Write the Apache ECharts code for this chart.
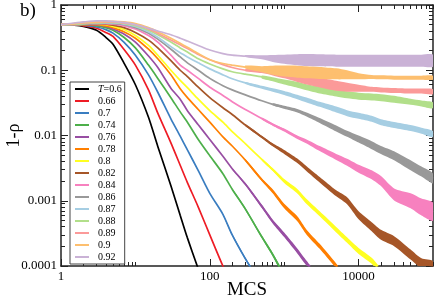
<!DOCTYPE html>
<html><head><meta charset="utf-8">
<script src="https://cdn.jsdelivr.net/npm/echarts@6/dist/echarts.min.js"></script>
<style>html,body{margin:0;padding:0;background:#fff}#c{width:436px;height:298px}</style>
</head><body><div id="c"></div>
<script>
// ---- data ----
const mcs = [1, 1.5, 2, 3, 4, 5, 7, 10, 15, 20, 30, 40, 50, 70, 100, 150, 200, 300, 500, 700, 1000, 1500, 2000, 3000, 5000, 7000, 10000, 15000, 20000, 30000, 50000, 70000, 100000];
const temps = ['T=0.6', '0.66', '0.7', '0.74', '0.76', '0.78', '0.8', '0.82', '0.84', '0.86', '0.87', '0.88', '0.89', '0.9', '0.92'];
const t060 = [0.5, 0.49, 0.47, 0.41, 0.32, 0.25, 0.13, 0.06, 0.019, 0.0068, 0.0017, 0.0006, 0.00027, 0.00009];
const t066 = [0.5, 0.5, 0.48, 0.44, 0.38, 0.33, 0.21, 0.12, 0.05, 0.022, 0.0077, 0.0035, 0.0019, 0.0008, 0.0003, 0.0001, 0.00005];
const t070 = [0.5, 0.5, 0.49, 0.46, 0.42, 0.37, 0.27, 0.17, 0.085, 0.046, 0.018, 0.0098, 0.006, 0.0029, 0.0013, 0.00062, 0.0003, 0.00013, 0.00005];
const t074 = [0.5, 0.5, 0.5, 0.48, 0.45, 0.41, 0.32, 0.22, 0.12, 0.075, 0.038, 0.023, 0.016, 0.0087, 0.0049, 0.0026, 0.0015, 0.00075, 0.00028, 0.00015, 0.00007];
const t076 = [0.5, 0.5, 0.5, 0.49, 0.47, 0.43, 0.36, 0.27, 0.165, 0.11, 0.053, 0.036, 0.024, 0.0146, 0.0087, 0.0048, 0.0031, 0.0018, 0.00082, 0.00048, 0.0003, 0.00017, 0.00011, 0.00006];
const t078 = [0.5, 0.5, 0.5, 0.5, 0.48, 0.45, 0.39, 0.31, 0.21, 0.15, 0.085, 0.052, 0.038, 0.025, 0.016, 0.0095, 0.0069, 0.0042, 0.0021, 0.0014, 0.00083, 0.00053, 0.00033, 0.0002, 0.0001, 0.00006];
const t080 = [0.5, 0.5, 0.51, 0.51, 0.5, 0.47, 0.42, 0.34, 0.24, 0.17, 0.1, 0.07, 0.054, 0.036, 0.024, 0.016, 0.0115, 0.0075, 0.0043, 0.003, 0.002, 0.0014, 0.00097, 0.00063, 0.00036, 0.00025, 0.00017, 0.00012, 0.00008];
const t082 = [0.5, 0.5, 0.51, 0.52, 0.51, 0.49, 0.45, 0.38, 0.29, 0.22, 0.14, 0.1, 0.08, 0.055, 0.038, 0.0266, 0.021, 0.0145, 0.0095, 0.0072, 0.0056, 0.0041, 0.0031, 0.0021, 0.0013, 0.001, 0.0006, 0.0004, 0.0003, 0.00024, 0.00015, 0.00011, 0.0001];
const t084 = [0.5, 0.5, 0.51, 0.52, 0.52, 0.51, 0.48, 0.43, 0.34, 0.27, 0.17, 0.12, 0.1, 0.075, 0.055, 0.041, 0.033, 0.025, 0.0182, 0.0148, 0.0121, 0.0094, 0.0081, 0.0063, 0.0047, 0.0039, 0.0031, 0.0025, 0.002, 0.00125, 0.001, 0.0008, 0.00068];
const t086 = [0.5, 0.5, 0.51, 0.52, 0.53, 0.52, 0.5, 0.45, 0.37, 0.3, 0.21, 0.16, 0.13, 0.1, 0.075, 0.058, 0.05, 0.042, 0.034, 0.03, 0.027, 0.024, 0.021, 0.017, 0.0128, 0.0106, 0.0088, 0.0071, 0.006, 0.0049, 0.0035, 0.0028, 0.0022];
const t087 = [0.5, 0.51, 0.52, 0.53, 0.53, 0.53, 0.51, 0.47, 0.39, 0.32, 0.23, 0.185, 0.16, 0.13, 0.105, 0.085, 0.074, 0.064, 0.055, 0.05, 0.045, 0.039, 0.035, 0.03, 0.025, 0.022, 0.02, 0.018, 0.016, 0.0145, 0.013, 0.0118, 0.0105];
const t088 = [0.5, 0.51, 0.52, 0.53, 0.54, 0.54, 0.52, 0.48, 0.41, 0.35, 0.27, 0.22, 0.19, 0.15, 0.125, 0.105, 0.095, 0.087, 0.079, 0.073, 0.066, 0.06, 0.055, 0.05, 0.045, 0.042, 0.04, 0.039, 0.038, 0.036, 0.033, 0.031, 0.029];
const t089 = [0.5, 0.52, 0.53, 0.54, 0.55, 0.55, 0.53, 0.5, 0.43, 0.37, 0.29, 0.245, 0.215, 0.175, 0.145, 0.122, 0.11, 0.1, 0.097, 0.094, 0.088, 0.079, 0.072, 0.065, 0.058, 0.055, 0.053, 0.051, 0.05, 0.049, 0.048, 0.048, 0.047];
const t090 = [0.5, 0.52, 0.54, 0.55, 0.56, 0.56, 0.55, 0.52, 0.45, 0.39, 0.31, 0.26, 0.225, 0.18, 0.145, 0.127, 0.12, 0.112, 0.104, 0.1, 0.097, 0.095, 0.093, 0.091, 0.088, 0.085, 0.081, 0.079, 0.078, 0.077, 0.077, 0.077, 0.077];
const t092 = [0.5, 0.53, 0.55, 0.57, 0.57, 0.56, 0.54, 0.5, 0.44, 0.4, 0.35, 0.31, 0.28, 0.24, 0.204, 0.18, 0.17, 0.165, 0.158, 0.152, 0.148, 0.145, 0.143, 0.142, 0.14, 0.14, 0.14, 0.14, 0.14, 0.14, 0.14, 0.14, 0.14];
const xTickValues = [1, 100, 10000];
const xTickLabels = ['1', '100', '10000'];
const xMinorTicks = [2, 3, 4, 5, 6, 7, 8, 9, 10, 200, 300, 400, 500, 600, 700, 800, 900, 1000, 20000, 30000, 40000, 50000, 60000, 70000, 80000, 90000, 100000];
const yTickValues = [1, 0.1, 0.01, 0.001, 0.0001];
const yTickLabels = ['1', '0.1', '0.01', '0.001', '0.0001'];
const yMinorTicks = [0.9, 0.8, 0.7, 0.6, 0.5, 0.4, 0.3, 0.2, 0.09, 0.08, 0.07, 0.06, 0.05, 0.04, 0.03, 0.02, 0.009, 0.008, 0.007, 0.006, 0.005, 0.004, 0.003, 0.002, 0.0009, 0.0008, 0.0007, 0.0006, 0.0005, 0.0004, 0.0003, 0.0002];

// ---- style ----
const allY = [t060, t066, t070, t074, t076, t078, t080, t082, t084, t086, t087, t088, t089, t090, t092];
const colors = ['#000000', '#ee1c25', '#3a7dc0', '#4daf4a', '#984ea3', '#ff7f00', '#ffff22', '#a65628', '#f781bf', '#999999', '#a6cee3', '#b2df8a', '#fb9a99', '#fdbf6f', '#cab2d6'];
// thickness (px) of the noisy band drawn around each curve, for MCS = 100 ... 100000 (mcs index 14 onward)
const noiseBandPx = {
  2: [0, 1, 2, 2.5, 3],
  3: [0, 0, 1.5, 2.5, 3, 3.5, 4],
  4: [0, 0, 1, 2.5, 3.5, 4, 4.5, 5, 5, 5],
  5: [0, 0, 0, 2, 3, 4, 4.5, 5, 5, 5, 5, 5],
  6: [0, 0, 0, 0, 2, 3, 4, 4.5, 5, 5, 5.5, 5.5, 6, 6, 6],
  7: [0, 0, 0, 2, 2.5, 3, 4, 4.5, 5, 5.5, 6, 7, 8, 9, 10, 10, 10, 10, 10],
  8: [0, 0, 0, 0, 2, 2.5, 3, 3.5, 4, 5, 6, 7, 8, 9, 10, 12, 15, 17, 18],
  9: [0, 0, 0, 0, 0, 2, 3, 3.5, 4, 5, 6, 6, 7, 8, 8, 9, 10, 10, 10],
  10: [0, 0, 0, 2, 3, 3.5, 4, 4.5, 5, 5, 6, 6, 6, 6, 6, 6, 6, 6, 6],
  11: [0, 0, 0, 0, 3, 4, 5, 6, 6, 7, 7, 7, 7, 7, 7, 7, 6, 6, 6],
  12: [0, 0, 0, 2, 4, 7, 9, 10, 10, 10, 10, 9, 7, 5, 5, 5, 5, 5, 5],
  13: [0, 0, 0, 3, 6, 9, 11, 12, 12, 12, 11, 9, 6, 4, 4, 4, 4, 4, 4],
  14: [0, 0, 0, 2, 4, 7, 9, 11, 12, 12, 12, 12, 12, 12, 12, 12, 12, 12, 12]
};
const bandStart = 14;
const serif = '"Liberation Serif", "DejaVu Serif", serif';
const frame = '#222';

const series = [];
allY.forEach((ys, i) => {
  const data = [];
  ys.forEach((v, j) => { if (v != null) data.push([mcs[j], v]); });
  series.push({
    name: temps[i], type: 'line', data, symbol: 'none', smooth: 0.25,
    lineStyle: { color: colors[i], width: 1.7 }, itemStyle: { color: colors[i] },
    z: 2 + i, clip: true, animation: false
  });
  const widths = noiseBandPx[i];
  if (widths) {
    series.push({
      name: temps[i] + ' noise', type: 'custom', data: [0], silent: true, clip: true,
      z: 2 + i, animation: false,
      renderItem: (params, api) => {
        const up = [], lo = [];
        widths.forEach((w, k) => {
          const j = bandStart + k;
          if (w > 0 && ys[j] != null) {
            const c = api.coord([mcs[j], ys[j]]);
            up.push([c[0], c[1] - w / 2]);
            lo.push([c[0], c[1] + w / 2]);
          }
        });
        if (up.length < 2) return null;
        return { type: 'polygon', shape: { points: up.concat(lo.reverse()), smooth: 0.25 }, style: { fill: colors[i] } };
      }
    });
  }
});

function xAx(pos, ticks, len, withLine, labels) {
  return {
    type: 'log', logBase: 10, min: 1, max: 100000, position: pos, gridIndex: 0,
    axisLine: { show: withLine, onZero: false, lineStyle: { color: frame, width: 1.5 } },
    axisTick: { show: true, inside: true, length: len, customValues: ticks, lineStyle: { color: frame, width: 1 } },
    axisLabel: labels ? { show: true, customValues: xTickValues, formatter: v => xTickLabels[xTickValues.indexOf(Math.round(v))] || '', fontFamily: serif, fontSize: 13, color: '#000', margin: 4 } : { show: false },
    splitLine: { show: false }, minorTick: { show: false },
    name: labels ? 'MCS' : '', nameLocation: 'middle', nameGap: 15, nameMoveOverlap: false,
    nameTextStyle: { fontFamily: serif, fontSize: 19, color: '#000' }
  };
}
function yAx(pos, ticks, len, withLine, labels) {
  return {
    type: 'log', logBase: 10, min: 0.0001, max: 1, position: pos, gridIndex: 0,
    axisLine: { show: withLine, onZero: false, lineStyle: { color: frame, width: 1.5 } },
    axisTick: { show: true, inside: true, length: len, customValues: ticks, lineStyle: { color: frame, width: 1 } },
    axisLabel: labels ? { show: true, customValues: yTickValues, formatter: v => yTickLabels[Math.round(-Math.log10(v))] || '', fontFamily: serif, fontSize: 13, color: '#000', margin: 4 } : { show: false },
    splitLine: { show: false }, minorTick: { show: false },
    name: labels ? '1-ρ' : '', nameLocation: 'middle', nameGap: 38, nameRotate: 90, nameMoveOverlap: false,
    nameTextStyle: { fontFamily: serif, fontSize: 18, color: '#000' }
  };
}

const chart = echarts.init(document.getElementById('c'), null, { renderer: 'canvas' });
chart.setOption({
  animation: false,
  backgroundColor: '#fff',
  grid: { left: 61, right: 3, top: 5, bottom: 32, containLabel: false, outerBoundsMode: 'none' },
  xAxis: [
    xAx('bottom', xTickValues, 7, true, true),
    xAx('bottom', xMinorTicks, 4, false, false),
    xAx('top', xTickValues, 7, true, false),
    xAx('top', xMinorTicks, 4, false, false)
  ],
  yAxis: [
    yAx('left', yTickValues, 7, true, true),
    yAx('left', yMinorTicks, 4, false, false),
    yAx('right', yTickValues, 7, true, false),
    yAx('right', yMinorTicks, 4, false, false)
  ],
  legend: {
    data: temps, orient: 'vertical', left: 70, top: 82,
    icon: 'rect', itemWidth: 14, itemHeight: 2, itemGap: 2,
    padding: [2, 3, 2, 5],
    borderColor: '#444', borderWidth: 1, backgroundColor: '#fff',
    selectedMode: false,
    formatter: n => n === 'T=0.6' ? '{i|T}{n|=0.6}' : '{n|' + n + '}',
    textStyle: {
      fontFamily: serif, fontSize: 10, lineHeight: 9, color: '#000', padding: [0, 0, 0, 4],
      rich: { i: { fontFamily: serif, fontSize: 10, lineHeight: 9, fontStyle: 'italic', color: '#000' }, n: { fontFamily: serif, fontSize: 10, lineHeight: 9, color: '#000' } }
    }
  },
  graphic: [{ type: 'text', left: 20, top: 2, style: { text: 'b)', font: '19px ' + serif, fill: '#000' } }],
  series
});
</script>
</body></html>
